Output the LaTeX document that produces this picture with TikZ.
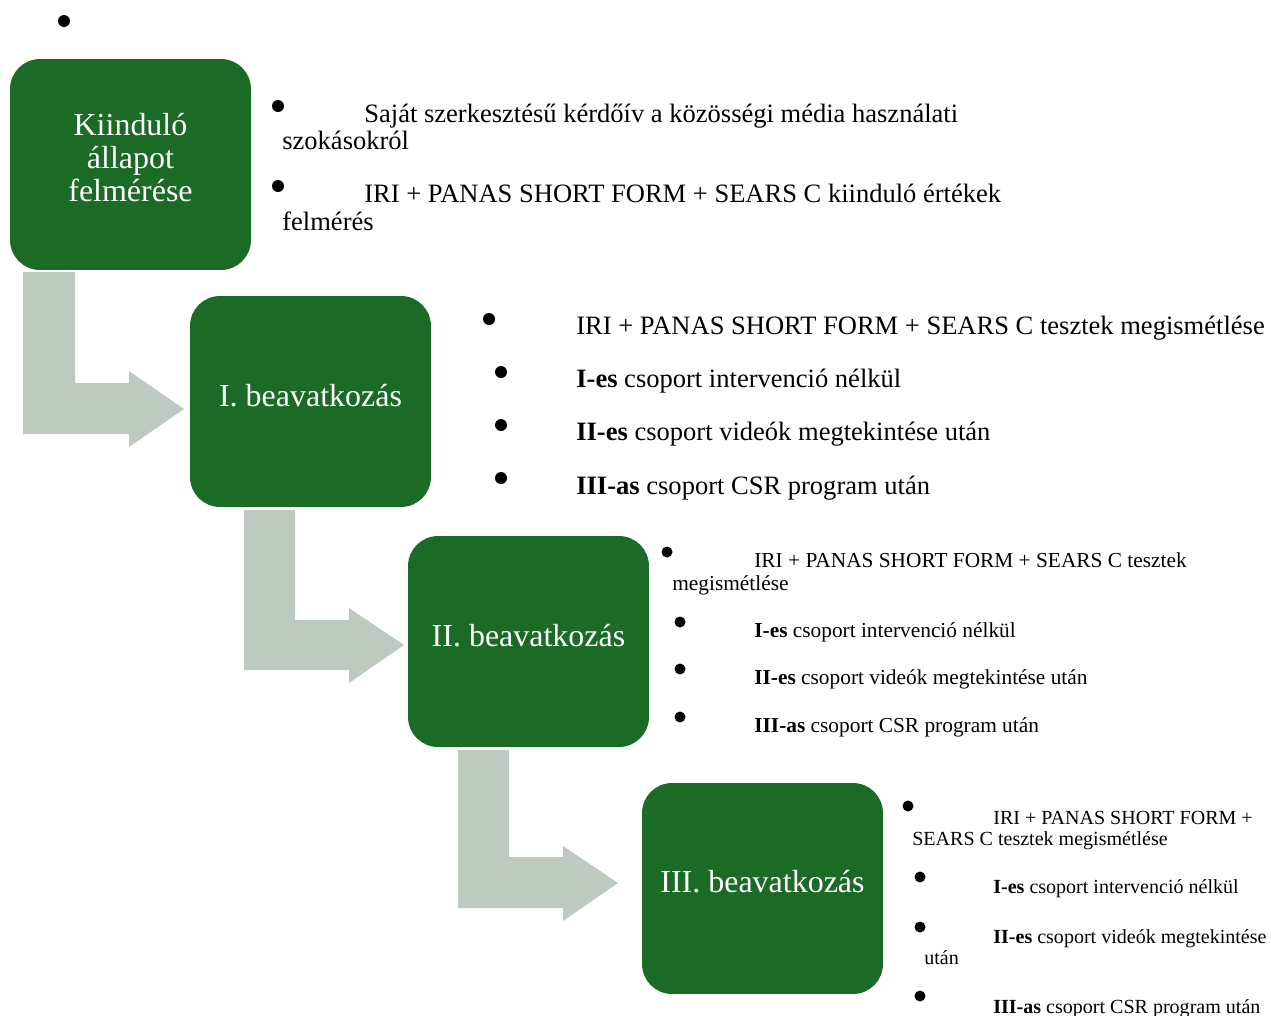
\documentclass[tikz,border=0pt]{standalone}
\usepackage{fontspec}
\setmainfont{Liberation Serif}
\definecolor{stagegreen}{RGB}{27,106,38}
\definecolor{bentgray}{RGB}{190,201,191}

\begin{document}
\begin{tikzpicture}[x=0.02cm,y=-0.02cm,
	stage/.style={fill=stagegreen,rounded corners=0.6cm,minimum width=4.82cm,minimum height=4.22cm,inner sep=0},
	stagetxt/.style={text=white,align=center,inner sep=0,font=\fontsize{18.2}{18.7}\selectfont},
	bigtxt/.style={anchor=base west,inner sep=0,font=\fontsize{15.1}{15.6}\selectfont},
	midtxt/.style={anchor=base west,inner sep=0,font=\fontsize{12.15}{13}\selectfont},
	smalltxt/.style={anchor=base west,inner sep=0,font=\fontsize{11.4}{12.5}\selectfont}]
	\useasboundingbox (0,0) rectangle (1271,1015);

	%fleches coudees
	\fill [bentgray] (23,272) -- (75,272) -- (75,383) -- (129,383) -- (129,371) -- (184,409) -- (129,447) -- (129,434) -- (23,434) -- cycle;
	\fill [bentgray] (244,510) -- (295,510) -- (295,620) -- (349,620) -- (349,608) -- (404,645) -- (349,683) -- (349,670) -- (244,670) -- cycle;
	\fill [bentgray] (458,750) -- (509,750) -- (509,857) -- (563,857) -- (563,846) -- (618,883) -- (563,921) -- (563,908) -- (458,908) -- cycle;

	%etapes
	\node [stage] (kiindulo) at (130.5,164.5) {};
	\node [stage] (beav1) at (310.5,401.5) {};
	\node [stage] (beav2) at (528.5,641.5) {};
	\node [stage] (beav3) at (762.5,888.5) {};
	\node [stagetxt] (tkiindulo) at (130.5,157.5) {Kiinduló\\állapot\\felmérése};
	\node [stagetxt,anchor=base] (tbeav1) at (310.5,406) {I. beavatkozás};
	\node [stagetxt,anchor=base] (tbeav2) at (528.5,646) {II. beavatkozás};
	\node [stagetxt,anchor=base] (tbeav3) at (762.5,892) {III. beavatkozás};

	%puces
	\fill (64,21) circle (6);
	\foreach \y in {106,186} \fill (278,\y) circle (6);
	\fill (489,319) circle (6);
	\foreach \y in {372,425,478} \fill (501,\y) circle (6);
	\fill (667,552) circle (5.5);
	\foreach \y in {622,669,717} \fill (680,\y) circle (5.5);
	\fill (908,806) circle (5.5);
	\foreach \y in {877,927,996} \fill (920,\y) circle (5.5);

	%kiindulo
	\node [bigtxt] (k1a) at (364,122) {Saját szerkesztésű kérdőív a közösségi média használati};
	\node [bigtxt] (k1b) at (282,149) {szokásokról};
	\node [bigtxt] (k2a) at (364,202) {IRI + PANAS SHORT FORM + SEARS C kiinduló értékek};
	\node [bigtxt] (k2b) at (282,230) {felmérés};

	%I. beavatkozas
	\node [bigtxt] (a1) at (576,334) {IRI + PANAS SHORT FORM + SEARS C tesztek megismétlése};
	\node [bigtxt] (a2) at (576,387) {\textbf{I-es} csoport intervenció nélkül};
	\node [bigtxt] (a3) at (576,440) {\textbf{II-es} csoport videók megtekintése után};
	\node [bigtxt] (a4) at (576,494) {\textbf{III-as} csoport CSR program után};

	%II. beavatkozas
	\node [midtxt] (b1a) at (754,567) {IRI + PANAS SHORT FORM + SEARS C tesztek};
	\node [midtxt] (b1b) at (672,590) {megismétlése};
	\node [midtxt] (b2) at (754,637) {\textbf{I-es} csoport intervenció nélkül};
	\node [midtxt] (b3) at (754,684) {\textbf{II-es} csoport videók megtekintése után};
	\node [midtxt] (b4) at (754,732) {\textbf{III-as} csoport CSR program után};

	%III. beavatkozas
	\node [smalltxt] (c1a) at (993,824) {IRI + PANAS SHORT FORM +};
	\node [smalltxt] (c1b) at (912,845) {SEARS C tesztek megismétlése};
	\node [smalltxt] (c2) at (993,893) {\textbf{I-es} csoport intervenció nélkül};
	\node [smalltxt] (c3a) at (993,943) {\textbf{II-es} csoport videók megtekintése};
	\node [smalltxt] (c3b) at (924,964) {után};
	\node [smalltxt] (c4) at (993,1013) {\textbf{III-as} csoport CSR program után};
\end{tikzpicture}
\end{document}
